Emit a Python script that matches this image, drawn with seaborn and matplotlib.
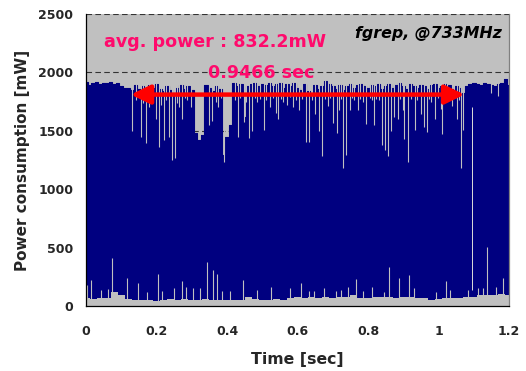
import numpy as np
import pandas as pd
import matplotlib
matplotlib.use("Agg")
import matplotlib.pyplot as plt
from matplotlib.patches import ArrowStyle
import seaborn as sns

# ---- data -------------------------------------------------------------
# upper envelope of the power trace, sampled every 10 ms (mW)
t_top = [round(0.01 * i, 2) for i in range(121)]
top_mw = [
    1920, 1890, 1905, 1915, 1900, 1910, 1905, 1915, 1900, 1910,
    1880, 1870, 1865, 1850, 1890, 1860, 1880, 1850, 1890, 1870,
    1900, 1860, 1840, 1880, 1850, 1820, 1870, 1890, 1860, 1880,
    1850, 1480, 1420, 1460, 1890, 1870, 1840, 1880, 1860, 1290,
    1450, 1550, 1910, 1880, 1900, 1620, 1880, 1900, 1910, 1880,
    1900, 1890, 1910, 1880, 1900, 1910, 1870, 1900, 1880, 1910,
    1870, 1850, 1900, 1840, 1800, 1890, 1860, 1880, 1930, 1900,
    1880, 1860, 1890, 1850, 1880, 1900, 1870, 1890, 1900, 1880,
    1870, 1890, 1880, 1900, 1860, 1880, 1900, 1870, 1890, 1910,
    1880, 1860, 1900, 1880, 1870, 1890, 1880, 1860, 1890, 1900,
    1870, 1880, 1900, 1890, 1860, 1880, 1870, 1820, 1880, 1900,
    1910, 1900, 1890, 1910, 1900, 1890, 1880, 1900, 1910, 1940,
    1890,
]

# short drops of the maximum (time in s, lowest value in mW)
dip_t = [0.131, 0.142, 0.155, 0.162, 0.169, 0.180, 0.190, 0.198, 0.207, 0.214,
         0.221, 0.228, 0.235, 0.245, 0.252, 0.258, 0.264, 0.273, 0.280, 0.287,
         0.297, 0.349, 0.357, 0.368, 0.375, 0.383, 0.392, 0.423, 0.430, 0.438,
         0.447, 0.455, 0.463, 0.472, 0.479, 0.485, 0.495, 0.505, 0.512, 0.522,
         0.530, 0.539, 0.546, 0.553, 0.560, 0.570, 0.578, 0.588, 0.596, 0.603,
         0.612, 0.624, 0.634, 0.642, 0.651, 0.660, 0.669, 0.677, 0.686, 0.693,
         0.700, 0.711, 0.717, 0.724, 0.730, 0.738, 0.748, 0.754, 0.760, 0.771,
         0.778, 0.785, 0.795, 0.805, 0.812, 0.818, 0.824, 0.830, 0.840, 0.847,
         0.856, 0.866, 0.875, 0.885, 0.892, 0.899, 0.901, 0.913, 0.922, 0.932,
         0.940, 0.949, 0.958, 0.967, 0.974, 0.980, 0.990, 0.998, 1.007, 1.010,
         1.018, 1.025, 1.038, 1.045, 1.052, 1.058, 1.065, 1.069, 1.150, 1.170]
dip_mw = [1500, 1760, 1450, 1740, 1395, 1700, 1780, 1600, 1360, 1720,
          1420, 1760, 1450, 1250, 1270, 1740, 1700, 1600, 1780, 1760,
          1700, 1550, 1580, 1750, 1700, 1780, 1230, 1760, 1450, 1780,
          1575, 1750, 1440, 1500, 1780, 1750, 1770, 1510, 1760, 1700,
          1780, 1650, 1600, 1770, 1750, 1720, 1790, 1700, 1760, 1680,
          1770, 1400, 1400, 1760, 1640, 1500, 1280, 1770, 1710, 1780,
          1570, 1480, 1680, 1770, 1180, 1290, 1680, 1780, 1760, 1680,
          1770, 1750, 1560, 1780, 1760, 1550, 1770, 1760, 1380, 1335,
          1280, 1500, 1620, 1600, 1770, 1680, 1430, 1230, 1770, 1510,
          1760, 1640, 1530, 1490, 1770, 1750, 1600, 1780, 1690, 1470,
          1770, 1760, 1710, 1780, 1600, 1760, 1180, 1510, 1820, 1800]

# lower envelope of the power trace, sampled every 20 ms (mW)
t_low = [round(0.02 * i, 2) for i in range(61)]
low_mw = [
    65, 60, 65, 70, 120, 90, 60, 55, 55, 50,
    45, 55, 60, 55, 60, 50, 55, 60, 55, 50,
    55, 50, 55, 75, 60, 55, 55, 60, 55, 65,
    75, 70, 80, 70, 75, 70, 75, 80, 90, 65,
    70, 80, 75, 80, 70, 75, 80, 70, 65, 55,
    60, 70, 65, 70, 75, 80, 90, 95, 90, 100,
    90,
]

# short rises of the minimum (time in s, highest value in mW)
rise_t = [0.002, 0.013, 0.042, 0.063, 0.075, 0.115, 0.148, 0.172, 0.205, 0.216,
          0.250, 0.271, 0.285, 0.304, 0.323, 0.344, 0.359, 0.372, 0.386, 0.408,
          0.446, 0.486, 0.524, 0.579, 0.610, 0.632, 0.648, 0.676, 0.709, 0.723,
          0.742, 0.765, 0.785, 0.811, 0.846, 0.860, 0.889, 0.917, 0.931, 0.994,
          1.022, 1.034, 1.083, 1.111, 1.125, 1.139, 1.163, 1.182]
rise_mw = [180, 222, 140, 145, 410, 240, 200, 120, 278, 130,
           150, 215, 160, 150, 150, 378, 310, 275, 130, 130,
           222, 140, 160, 150, 195, 130, 125, 150, 125, 140,
           160, 230, 130, 160, 120, 335, 240, 265, 150, 120,
           210, 140, 140, 150, 150, 505, 160, 240]

# single idle gap through the middle of the band
gap_t = [1.095]
gap_lo = [140]
gap_hi = [1700]

# annotation values
avg_power_mw = 832.2
span_start = 0.127
span_sec = 0.9466
span_level = 1810

x_ticks = [0, 0.2, 0.4, 0.6, 0.8, 1.0, 1.2]
x_tick_labels = ["0", "0.2", "0.4", "0.6", "0.8", "1", "1.2"]
y_ticks = [0, 500, 1000, 1500, 2000, 2500]
y_tick_labels = ["0", "500", "1000", "1500", "2000", "2500"]

# ---- style ------------------------------------------------------------
sns.set_style("white")
plt.rcParams["font.family"] = ["DejaVu Sans"]
plt.rcParams["font.weight"] = "bold"

NAVY = "#000080"
BG = "#c0c0c0"
PINK = "#ff0a6c"

fig = plt.figure(figsize=(5.26, 3.71), dpi=100)
ax = fig.add_axes([86 / 526, 1 - 306 / 371, (509 - 86) / 526, (306 - 14) / 371])
ax.set_facecolor(BG)

top_df = pd.DataFrame({"t": t_top, "mw": top_mw})
low_df = pd.DataFrame({"t": t_low, "mw": low_mw})

# navy band: everything under the upper envelope, then the floor cut out
ax.fill_between(top_df["t"], 0, top_df["mw"], step="mid", color=NAVY, lw=0, zorder=2)
sns.lineplot(data=top_df, x="t", y="mw", drawstyle="steps-mid", color=NAVY,
             lw=0.8, ax=ax, zorder=2.1)
ax.fill_between(low_df["t"], 0, low_df["mw"], step="mid", color=BG, lw=0, zorder=2.2)

px = 72 / 100  # one pixel in points
ax.vlines(dip_t, dip_mw, 1990, color=BG, lw=1.1 * px, zorder=2.3)
ax.vlines(rise_t, 0, rise_mw, color=BG, lw=1.1 * px, zorder=2.3)
ax.vlines(gap_t, gap_lo, gap_hi, color="#d6d6d6", lw=1.0 * px, zorder=2.3)

# axes
ax.set_xlim(0, 1.2)
ax.set_ylim(0, 2500)
ax.set_xticks(x_ticks)
ax.set_xticklabels(x_tick_labels, fontsize=9, fontweight="bold")
ax.set_yticks(y_ticks)
ax.set_yticklabels(y_tick_labels, fontsize=9, fontweight="bold")
ax.tick_params(axis="y", direction="out", length=4.3, width=0.8, pad=5, color="black")
ax.tick_params(axis="x", direction="out", length=4.3, width=0.8, pad=9.5, color="black")
ax.set_axisbelow(True)
ax.yaxis.grid(True, ls=(0, (5, 3)), color="#333333", lw=0.8)
ax.xaxis.grid(False)

for side in ("left", "bottom"):
    ax.spines[side].set_color("black")
    ax.spines[side].set_linewidth(0.9)
ax.spines["top"].set_visible(False)
ax.spines["right"].set_color("#808080")
ax.spines["right"].set_linewidth(0.9)

ax.set_xlabel("Time [sec]", fontsize=11.3, fontweight="bold", labelpad=10)
ax.set_ylabel("Power consumption [mW]", fontsize=11, fontweight="bold", labelpad=6)

# annotations
ax.text(0.051, 2260, f"avg. power : {avg_power_mw:.1f}mW", color=PINK,
        fontsize=12.6, fontweight="bold", va="center", ha="left", zorder=5)
ax.text(0.346, 1995, f"{span_sec:.4f} sec", color=PINK,
        fontsize=12.6, fontweight="bold", va="center", ha="left", zorder=5)
ax.text(1.18, 2337, "fgrep, @733MHz", color="black", fontsize=11.4,
        fontweight="bold", fontstyle="italic", va="center", ha="right", zorder=5)

ax.annotate("", xy=(span_start + span_sec, span_level), xytext=(span_start, span_level),
            arrowprops=dict(arrowstyle=ArrowStyle("<|-|>", head_length=0.45, head_width=0.22),
                            mutation_scale=26, color="#ff0000", lw=3.2,
                            shrinkA=0, shrinkB=0),
            zorder=6)

fig.savefig("out.png", dpi=100)
